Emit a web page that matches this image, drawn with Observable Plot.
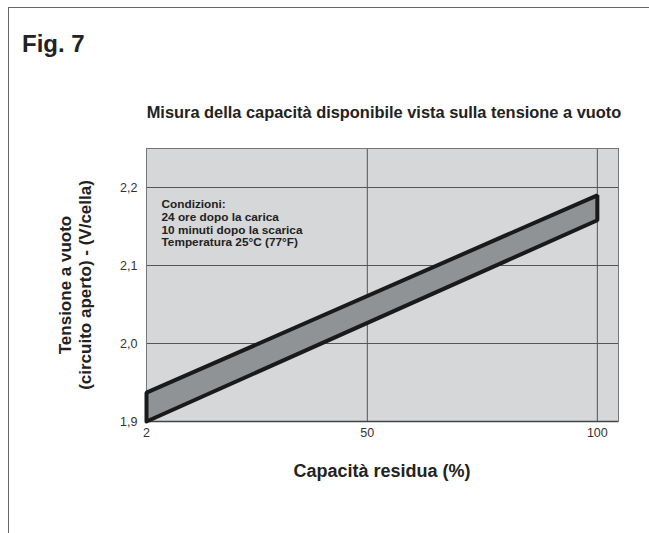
<!DOCTYPE html>
<html>
<head>
<meta charset="utf-8">
<script src="https://cdn.jsdelivr.net/npm/d3@7"></script>
<script src="https://cdn.jsdelivr.net/npm/@observablehq/plot@0.6"></script>
<style>
  html, body { margin: 0; padding: 0; background: #fff; }
  #wrap { position: relative; width: 649px; height: 533px; overflow: hidden; font-family: "Liberation Sans", Arial, sans-serif; color: #222; }
  #frame { position: absolute; left: 8px; top: 7px; width: 700px; height: 600px; border-top: 1.5px solid #666; border-left: 1.5px solid #666; }
  #fig { position: absolute; left: 22px; top: 30px; font-size: 24px; font-weight: bold; color: #222; }
  #title { position: absolute; left: 120px; width: 528px; top: 103px; font-size: 16.4px; font-weight: bold; text-align: center; color: #222; white-space: nowrap; }
  #ylab { position: absolute; left: 76px; top: 285px; width: 0; height: 0; }
  #ylab div { position: absolute; transform: translate(-50%, -50%) rotate(-90deg); white-space: nowrap; font-size: 17px; font-weight: bold; text-align: center; line-height: 20px; color: #222; }
  #xlab { position: absolute; left: 232px; width: 300px; top: 461px; text-align: center; font-size: 18px; font-weight: bold; color: #222; }
  #chart { position: absolute; left: 0; top: 0; }
</style>
</head>
<body>
<div id="wrap">
  <div id="frame"></div>
  <div id="chart"></div>
  <div id="fig">Fig. 7</div>
  <div id="title">Misura della capacità disponibile vista sulla tensione a vuoto</div>
  <div id="ylab"><div>Tensione a vuoto<br>(circuito aperto) - (V/cella)</div></div>
  <div id="xlab">Capacità residua (%)</div>
</div>
<script>
// Data
const capacity = [2, 100];          // Capacità residua (%)
const upperV = [1.937, 2.19];       // upper edge of band (V/cella)
const lowerV = [1.90, 2.158];       // lower edge of band (V/cella)
const xTicks = [2, 50, 100];
const yTicks = [1.9, 2.0, 2.1, 2.2];
const conditions = ["Condizioni:", "24 ore dopo la carica", "10 minuti dopo la scarica", "Temperatura 25°C (77°F)"];

const band = capacity.map((c, i) => ({c, lo: lowerV[i], hi: upperV[i]}));
// closed outline of the band, built from the arrays
const outline = [
  ...capacity.map((c, i) => ({c, v: lowerV[i]})),
  ...capacity.slice().reverse().map((c, j) => ({c, v: upperV[capacity.length - 1 - j]})),
  {c: capacity[0], v: lowerV[0]}
];

const fmtY = d => d.toFixed(1).replace(".", ",");

const chart = Plot.plot({
  width: 649,
  height: 533,
  marginLeft: 146,
  marginRight: 31,
  marginTop: 148,
  marginBottom: 112,
  style: { fontFamily: "Liberation Sans, Arial, sans-serif", fontSize: "12px", color: "#333", background: "transparent" },
  x: { domain: [2, 104.6], ticks: xTicks, label: null },
  y: { domain: [1.9, 2.25], ticks: yTicks, label: null },
  marks: [
    Plot.frame({ fill: "#d6d7d9", stroke: null }),
    Plot.gridX(xTicks, { stroke: "#555", strokeOpacity: 1, strokeWidth: 1 }),
    Plot.gridY(yTicks, { stroke: "#555", strokeOpacity: 1, strokeWidth: 1 }),
    Plot.frame({ stroke: "#777", strokeWidth: 1 }),
    Plot.ruleY([1.9], { stroke: "#444", strokeWidth: 1.5 }),
    Plot.areaY(band, { x: "c", y1: "lo", y2: "hi", fill: "#909396" }),
    Plot.line(outline, { x: "c", y: "v", stroke: "#1a1a1a", strokeWidth: 4, strokeLinejoin: "miter", curve: "linear" }),
    Plot.text([conditions.join("\n")], { frameAnchor: "top-left", dx: 15, dy: 51, textAnchor: "start", lineAnchor: "top", fontSize: 11.8, fontWeight: "bold", fill: "#222", lineHeight: 1.07 }),
    Plot.axisX(xTicks, { tickSize: 0, tickPadding: 7, fontSize: 12.5, fill: "#333", label: null }),
    Plot.axisY(yTicks, { tickSize: 0, tickPadding: 9, fontSize: 12.5, fill: "#333", tickFormat: fmtY, label: null })
  ]
});
document.getElementById("chart").appendChild(chart);
</script>
</body>
</html>
